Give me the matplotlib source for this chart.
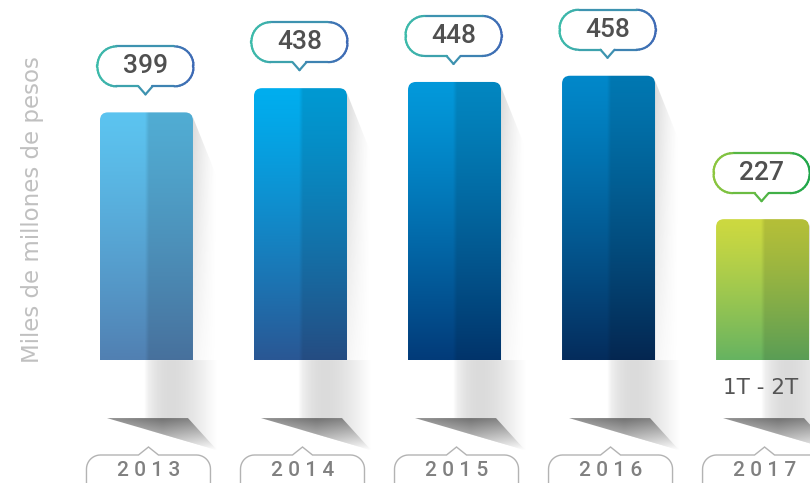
import numpy as np
import matplotlib.pyplot as plt
from matplotlib.patches import Polygon, FancyBboxPatch
from matplotlib.collections import LineCollection
from matplotlib.colors import to_rgb

years = ['2013', '2014', '2015', '2016', '2017']
values = [399, 438, 448, 458, 227]
value_labels = ['399', '438', '448', '458', '227']
top_colors = ['#5CC4F0', '#00AEEF', '#0399DB', '#0188CA', '#CDD940']
bottom_colors = ['#5180B2', '#2A5794', '#023B79', '#052C5C', '#66B361']
outline_left = ['#3DBBAA', '#3DBBAA', '#3DBBAA', '#3DBBAA', '#8DC63F']
outline_right = ['#3E6AB5', '#3E6AB5', '#3E6AB5', '#3E6AB5', '#1FA64A']
ylabel = 'Miles de millones de pesos'
period_note = '1T - 2T'

W, H = 810, 483
plt.rcParams['font.family'] = ['Roboto', 'DejaVu Sans']
fig = plt.figure(figsize=(W / 100, H / 100), dpi=100)

# data axes: gives the bar geometry
ax = fig.add_axes([0, 0, 1, 1])
ax.set_xlim(-0.951, 4.308)
ax.set_ylim(-198, 580)
ax.axis('off')
bars = ax.bar(range(len(values)), values, width=93 / 154, color='none', linewidth=0)

# overlay axes in pixel units for the decoration
ov = fig.add_axes([0, 0, 1, 1], zorder=2)
ov.set_xlim(0, W)
ov.set_ylim(0, H)
ov.axis('off')
ov.patch.set_alpha(0)


def rounded_pts(x0, y0, x1, y1, r, ptr=None, tw=7, th=8, n=12):
    cx = (x0 + x1) / 2
    pts = []
    if ptr == 'bottom':
        pts += [(cx - tw, y0), (cx, y0 - th), (cx + tw, y0)]
    for c, a0 in [((x1 - r, y0 + r), -90), ((x1 - r, y1 - r), 0)]:
        a = np.radians(np.linspace(a0, a0 + 90, n))
        pts += list(zip(c[0] + r * np.cos(a), c[1] + r * np.sin(a)))
    if ptr == 'top':
        pts += [(cx + tw, y1), (cx, y1 + th), (cx - tw, y1)]
    for c, a0 in [((x0 + r, y1 - r), 90), ((x0 + r, y0 + r), 180)]:
        a = np.radians(np.linspace(a0, a0 + 90, n))
        pts += list(zip(c[0] + r * np.cos(a), c[1] + r * np.sin(a)))
    pts.append(pts[0])
    return np.array(pts)


def grad_outline(pts, c_left, c_right, lw):
    segs = np.stack([pts[:-1], pts[1:]], axis=1)
    xm = segs[:, :, 0].mean(axis=1)
    t = (xm - pts[:, 0].min()) / (pts[:, 0].max() - pts[:, 0].min())
    cl, cr = np.array(to_rgb(c_left)), np.array(to_rgb(c_right))
    cols = cl[None, :] * (1 - t[:, None]) + cr[None, :] * t[:, None]
    ov.add_collection(LineCollection(segs, colors=cols, linewidths=lw,
                                     capstyle='round', zorder=6))


for i, b in enumerate(bars):
    (x0, yb), (x1, yt) = ax.transData.transform(
        [(b.get_x(), 0), (b.get_x() + b.get_width(), b.get_height())])
    xc = (x0 + x1) / 2

    # shadow beside the bar
    ny, nx = 100, 30
    sh = np.ones((ny, nx, 4)) * 0.55
    hx = np.linspace(1, 0, nx) ** 1.3
    vy = np.linspace(1, 0.25, ny)
    sh[:, :, 3] = 0.32 * hx[None, :] * vy[:, None]
    im = ov.imshow(sh, extent=(x1, x1 + 24, yb, yt), origin='upper',
                   aspect='auto', zorder=1, interpolation='bilinear')
    clip = Polygon([(x1, yt - 5), (x1 + 24, yt - 65), (x1 + 24, yb), (x1, yb)],
                   transform=ov.transData)
    im.set_clip_path(clip)

    # strip under the bar
    xs = np.linspace(0, 1, 80)
    g = 1 - 0.14 * np.clip(np.sin(np.pi * xs ** 0.7), 0, 1)
    g[:6] = np.linspace(1, g[6], 6)
    strip = np.ones((40, 80, 3)) * g[None, :, None]
    im = ov.imshow(strip, extent=(xc - 2, x1 + 24, yb - 90, yb), origin='upper',
                   aspect='auto', zorder=1, interpolation='bilinear')
    clip = Polygon([(xc - 2, yb), (x1 + 24, yb), (x1 + 24, yb - 90),
                    (xc - 2, yb - 69)], transform=ov.transData)
    im.set_clip_path(clip)

    # dark wedge
    wv = np.linspace(0.45, 0.88, 40)
    wedge = np.clip(wv[:, None] + np.abs(np.linspace(-1, 1, 60))[None, :] * 0.12, 0, 1)
    wedge = np.repeat(wedge[:, :, None], 3, axis=2)
    im = ov.imshow(wedge, extent=(x0 + 7, x1 + 24, yb - 90, yb - 58), origin='upper',
                   aspect='auto', zorder=1.5, interpolation='bilinear')
    clip = Polygon([(x0 + 7, yb - 58), (x1 - 5, yb - 58), (x1 + 24, yb - 90)],
                   transform=ov.transData)
    im.set_clip_path(clip)

    # gradient bar with rounded top
    n = 200
    t = np.linspace(0, 1, n)[:, None]
    ct, cb = np.array(to_rgb(top_colors[i])), np.array(to_rgb(bottom_colors[i]))
    col = ct[None, :] * (1 - t ** 1.2) + cb[None, :] * t ** 1.2
    m = 93
    fx = np.ones(m)
    half = m // 2
    fx[half:] = 0.88
    fx[half - 2:half + 3] = np.linspace(1, 0.88, 5)
    img = col[:, None, :] * fx[None, :, None]
    im = ov.imshow(img, extent=(x0, x1, yb, yt), origin='upper', aspect='auto',
                   zorder=3, interpolation='bilinear')
    clip = FancyBboxPatch((x0, yb - 12), x1 - x0, yt - yb + 12,
                          boxstyle='round,pad=0,rounding_size=8',
                          transform=ov.transData)
    im.set_clip_path(clip)

    # value callout
    bw, bh = 96, 40
    by0 = yt + 26
    pts = rounded_pts(xc - bw / 2 - 1, by0, xc + bw / 2 - 1, by0 + bh, 19,
                      ptr='bottom', tw=7, th=8)
    ov.add_patch(Polygon(pts, closed=True, facecolor='white', edgecolor='none', zorder=5))
    grad_outline(pts, outline_left[i], outline_right[i], 1.6)
    ov.text(xc - 1, by0 + bh / 2, value_labels[i], ha='center', va='center',
            fontsize=19, fontweight='medium', color='#505050', zorder=7)

    # year box
    pts = rounded_pts(xc - 60, -14, xc + 64, 28, 14, ptr='top', tw=10, th=8)
    ov.add_patch(Polygon(pts, closed=True, facecolor='white', edgecolor='#B3B3B3',
                         linewidth=1.0, zorder=5))
    ov.text(xc + 2, 13, ' '.join(years[i]), ha='center',
            va='center', fontsize=15, fontweight='medium', color='#808080', zorder=7)

# period note under the last bar
lx = ax.transData.transform([(len(values) - 1, 0)])[0, 0]
ov.text(lx - 2, 95, period_note, ha='center', va='center', fontsize=15.5,
        family='DejaVu Sans', color='#555555', zorder=7)

ov.text(33, 273, ylabel, rotation=90, ha='center', va='center',
        fontsize=16.5, family='DejaVu Sans', color='#C0C0C0', zorder=7)

fig.savefig('out.png', dpi=100)
